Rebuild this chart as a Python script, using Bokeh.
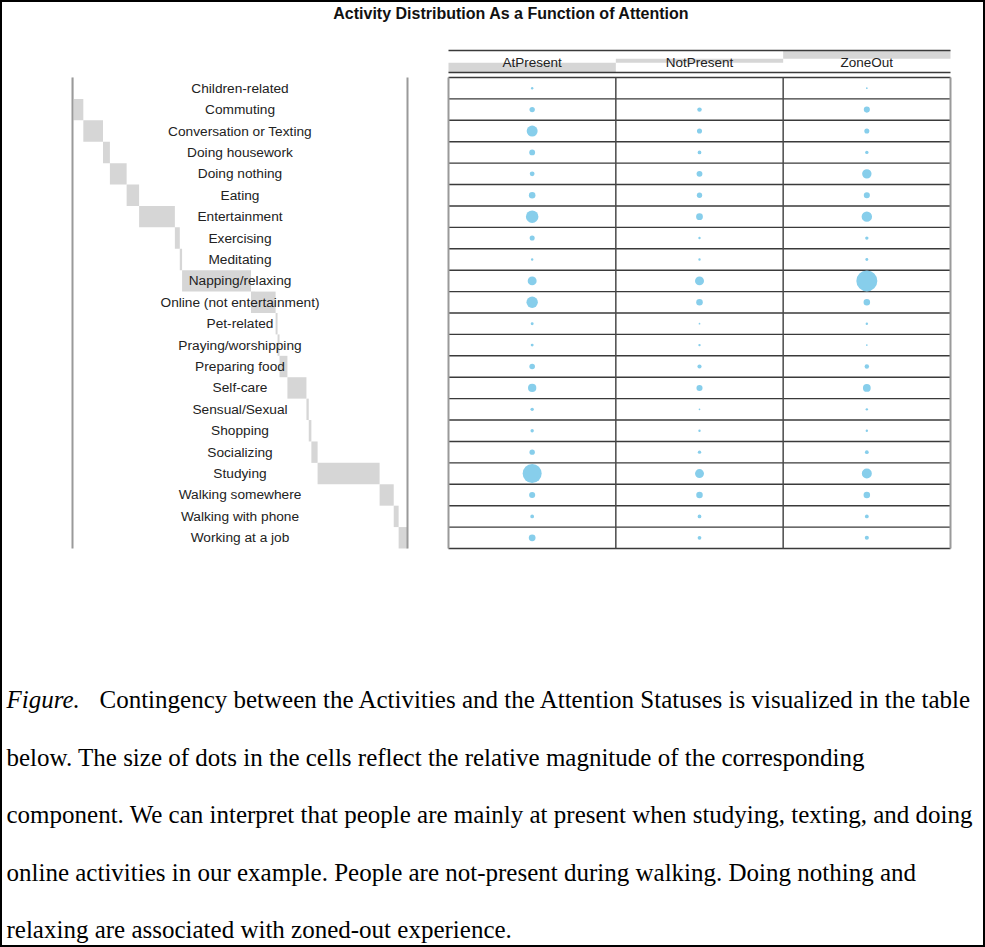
from bokeh.plotting import figure
from bokeh.models import Range1d
from bokeh.core.properties import value
from bokeh.embed import file_html
from bokeh.resources import INLINE
import math

# ---------------- data ----------------
title_text = "Activity Distribution As a Function of Attention"
activities = ["Children-related", "Commuting", "Conversation or Texting", "Doing housework",
              "Doing nothing", "Eating", "Entertainment", "Exercising", "Meditating",
              "Napping/relaxing", "Online (not entertainment)", "Pet-related",
              "Praying/worshipping", "Preparing food", "Self-care", "Sensual/Sexual",
              "Shopping", "Socializing", "Studying", "Walking somewhere",
              "Walking with phone", "Working at a job"]
statuses = ["AtPresent", "NotPresent", "ZoneOut"]
at_present = [2, 10, 42, 12, 8, 15, 55, 9, 2, 28, 45, 3, 3, 11, 24, 4, 4, 10, 126, 13, 5, 16]
not_present = [0, 7, 9, 5, 12, 10, 16, 2, 2, 28, 15, 1, 2, 6, 13, 1, 2, 4, 28, 15, 5, 5]
zone_out = [1, 13, 9, 4, 31, 13, 38, 4, 3, 154, 15, 2, 1, 7, 21, 2, 2, 5, 35, 15, 5, 6]
caption_lead = "Figure."
caption_lines = [
    "Contingency between the Activities and the Attention Statuses is visualized in the table",
    "below. The size of dots in the cells reflect the relative magnitude of the corresponding",
    "component. We can interpret that people are mainly at present when studying, texting, and doing",
    "online activities in our example. People are not-present during walking. Doing nothing and",
    "relaxing are associated with zoned-out experience.",
]

# ---------------- layout ----------------
W, H = 985, 947
TABLE_X0, TABLE_X1 = 448, 950
ROW_Y0, ROW_Y1 = 77, 548
HEAD_Y0, HEAD_Y1 = 50, 72
LEFT_X0, LEFT_X1 = 72, 407
MAXD = 21.0
SANS = value("Liberation Sans")
SERIF = value("Liberation Serif")

n = len(activities)
ncol = len(statuses)
row_h = (ROW_Y1 - ROW_Y0) / n
col_w = (TABLE_X1 - TABLE_X0) / ncol
cols = [at_present, not_present, zone_out]

p = figure(width=W, height=H, x_range=Range1d(0, W), y_range=Range1d(H, 0),
           output_backend="svg", toolbar_location=None, min_border=0,
           x_axis_location=None, y_axis_location=None)
p.grid.visible = False
p.outline_line_color = "black"
p.outline_line_width = 3
p.background_fill_color = "white"
p.border_fill_color = "white"

# ---- row margin bars (staircase) ----
row_tot = [sum(c[i] for c in cols) for i in range(n)]
total = sum(row_tot)
xs = (LEFT_X1 - LEFT_X0) / total
left, right, top, bottom = [], [], [], []
cum = 0
for i in range(n):
    left.append(LEFT_X0 + cum * xs)
    cum += row_tot[i]
    right.append(LEFT_X0 + cum * xs)
    top.append(ROW_Y0 + i * row_h)
    bottom.append(ROW_Y0 + (i + 1) * row_h)
p.quad(left=left, right=right, top=top, bottom=bottom, fill_color="#d6d6d6", line_color=None)

# ---- column margin bars (header staircase) ----
col_tot = [sum(c) for c in cols]
hs = (HEAD_Y1 - HEAD_Y0) / total
hl, hr, ht, hb = [], [], [], []
cum = 0
for j in range(ncol):
    hl.append(TABLE_X0 + j * col_w)
    hr.append(TABLE_X0 + (j + 1) * col_w)
    hb.append(HEAD_Y1 - cum * hs)
    cum += col_tot[j]
    ht.append(HEAD_Y1 - cum * hs)
p.quad(left=hl, right=hr, top=ht, bottom=hb, fill_color="#d6d6d6", line_color=None)

# ---- left label region borders ----
p.segment(x0=[LEFT_X0, LEFT_X1], y0=[ROW_Y0, ROW_Y0], x1=[LEFT_X0, LEFT_X1], y1=[ROW_Y1, ROW_Y1],
          line_color="#9a9a9a", line_width=2)

# ---- table grid ----
hy = [ROW_Y0 + i * row_h for i in range(n + 1)]
p.segment(x0=[TABLE_X0] * len(hy), y0=hy, x1=[TABLE_X1] * len(hy), y1=hy,
          line_color="#3a3a3a", line_width=1.4)
p.segment(x0=[TABLE_X0, TABLE_X0], y0=[HEAD_Y0, HEAD_Y1], x1=[TABLE_X1, TABLE_X1], y1=[HEAD_Y0, HEAD_Y1],
          line_color="#3a3a3a", line_width=1.4)
inner_x = [TABLE_X0 + j * col_w for j in range(1, ncol)]
p.segment(x0=inner_x, y0=[ROW_Y0] * len(inner_x), x1=inner_x, y1=[ROW_Y1] * len(inner_x),
          line_color="#4a4a4a", line_width=1.5)
p.segment(x0=[TABLE_X0, TABLE_X1], y0=[ROW_Y0, ROW_Y0], x1=[TABLE_X0, TABLE_X1], y1=[ROW_Y1, ROW_Y1],
          line_color="#9a9a9a", line_width=2)

# ---- dots ----
vmax = max(max(c) for c in cols)
dx, dy, ds = [], [], []
for j, c in enumerate(cols):
    for i, v in enumerate(c):
        if v > 0:
            dx.append(TABLE_X0 + (j + 0.5) * col_w)
            dy.append(ROW_Y0 + (i + 0.5) * row_h)
            ds.append(MAXD * math.sqrt(v / vmax))
p.scatter(x=dx, y=dy, size=ds, fill_color="#87ceeb", line_color=None)

# ---- texts ----
p.text(x=[(LEFT_X0 + LEFT_X1) / 2] * n, y=[ROW_Y0 + (i + 0.5) * row_h for i in range(n)],
       text=activities, text_align="center", text_baseline="middle",
       text_font=SANS, text_font_size="13.7px", text_color="#222222")
p.text(x=[TABLE_X0 + (j + 0.5) * col_w for j in range(ncol)], y=[(HEAD_Y0 + HEAD_Y1) / 2 + 1] * ncol,
       text=statuses, text_align="center", text_baseline="middle",
       text_font=SANS, text_font_size="13.5px", text_color="#222222")
p.text(x=[511], y=[13], text=[title_text], text_align="center", text_baseline="middle",
       text_font=SANS, text_font_size="16px", text_font_style="bold", text_color="#111111")

# ---- caption ----
mid0, step = 699, 57.6
p.text(x=[6], y=[mid0], text=[caption_lead], text_align="left", text_baseline="middle",
       text_font=SERIF, text_font_size="25px", text_font_style="italic", text_color="black")
cx = [99] + [6] * (len(caption_lines) - 1)
cy = [mid0 + k * step for k in range(len(caption_lines))]
p.text(x=cx, y=cy, text=caption_lines, text_align="left", text_baseline="middle",
       text_font=SERIF, text_font_size="25px", text_color="black")

open("out.html", "w").write(file_html(p, INLINE))
